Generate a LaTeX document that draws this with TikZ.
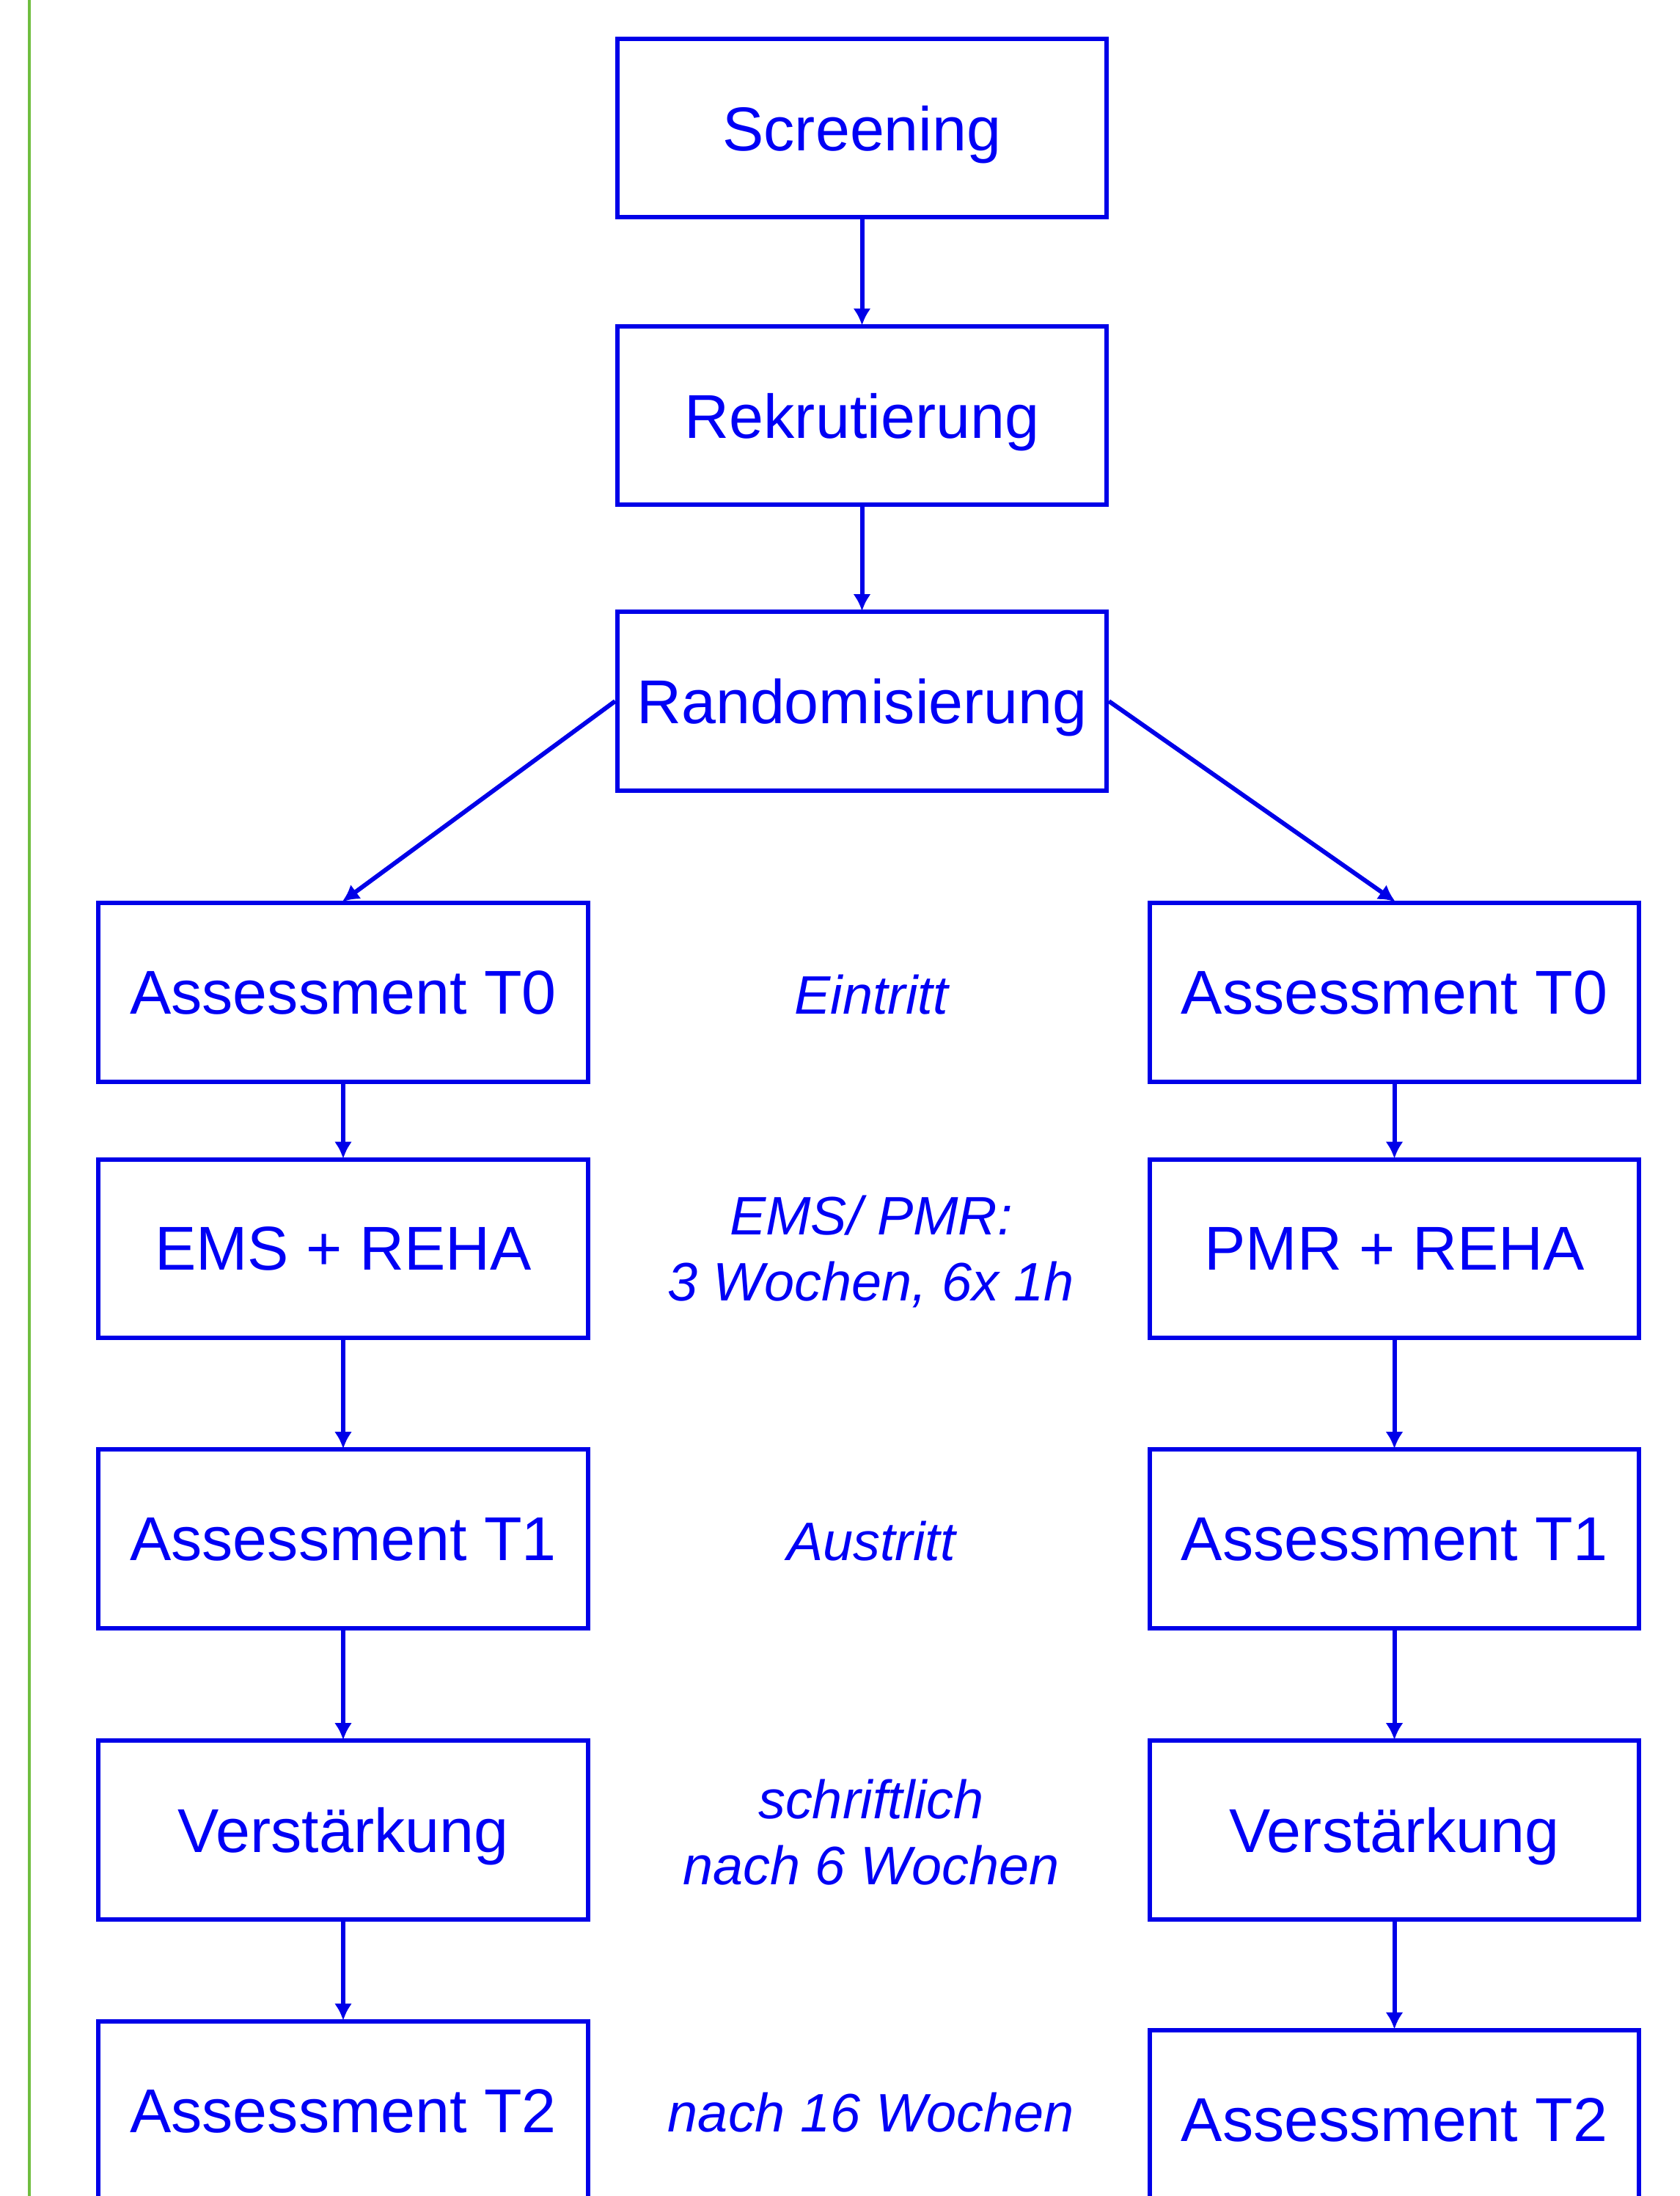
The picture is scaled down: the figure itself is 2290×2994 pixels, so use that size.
\documentclass[tikz,border=0pt]{standalone}
\usepackage{fontspec}
\setmainfont{Liberation Sans}
\usetikzlibrary{arrows.meta}
\definecolor{flowblue}{RGB}{0,0,232}
\definecolor{textblue}{RGB}{0,0,245}
\definecolor{sidegreen}{RGB}{112,190,64}
\tikzset{
  box/.style={draw=flowblue, line width=1.7pt, rectangle, minimum width=6.67cm, minimum height=2.43cm,
    inner sep=0pt, text depth=0pt, text=textblue, font=\fontsize{24}{29}\selectfont},
  lbl/.style={text=textblue, align=center, font=\fontsize{21}{25.6}\selectfont\itshape},
  arr/.style={draw=flowblue, line width=1.7pt, -{Latex[length=0.23cm, width=0.24cm]}, shorten >=-0.5pt}
}
\begin{document}
\begin{tikzpicture}[x=0.01cm,y=-0.01cm]
\useasboundingbox (0,0) rectangle (2290,2994);
\draw[sidegreen, line width=1.2pt] (40,-10) -- (40,3010);

\node[box] (scr) at (1175.5,174.5) {Screening};
\node[box] (rek) at (1175.5,566.5) {Rekrutierung};
\node[box] (ran) at (1175.5,956) {Randomisierung};

\node[box] (l0) at (468,1353) {Assessment T0};
\node[box] (l1) at (468,1702.5) {EMS + REHA};
\node[box] (l2) at (468,2098) {Assessment T1};
\node[box] (l3) at (468,2495) {Verstärkung};
\node[box] (l4) at (468,2877.5) {Assessment T2};

\node[box] (r0) at (1901.5,1353) {Assessment T0};
\node[box] (r1) at (1901.5,1702.5) {PMR + REHA};
\node[box] (r2) at (1901.5,2098) {Assessment T1};
\node[box] (r3) at (1901.5,2495) {Verstärkung};
\node[box] (r4) at (1901.5,2889.5) {Assessment T2};

\node[lbl] (t0) at (1188,1356) {Eintritt};
\node[lbl] (t1) at (1188,1706) {EMS/ PMR:\\3 Wochen, 6x 1h};
\node[lbl] (t2) at (1188,2101) {Austritt};
\node[lbl] (t3) at (1188,2498) {schriftlich\\nach 6 Wochen};
\node[lbl] (t4) at (1188,2880) {nach 16 Wochen};

\draw[arr] (scr) -- (rek);
\draw[arr] (rek) -- (ran);
\draw[arr] (ran.west) -- (l0.north);
\draw[arr] (ran.east) -- (r0.north);
\draw[arr] (l0) -- (l1);
\draw[arr] (l1) -- (l2);
\draw[arr] (l2) -- (l3);
\draw[arr] (l3) -- (l4);
\draw[arr] (r0) -- (r1);
\draw[arr] (r1) -- (r2);
\draw[arr] (r2) -- (r3);
\draw[arr] (r3) -- (r4);
\end{tikzpicture}
\end{document}
